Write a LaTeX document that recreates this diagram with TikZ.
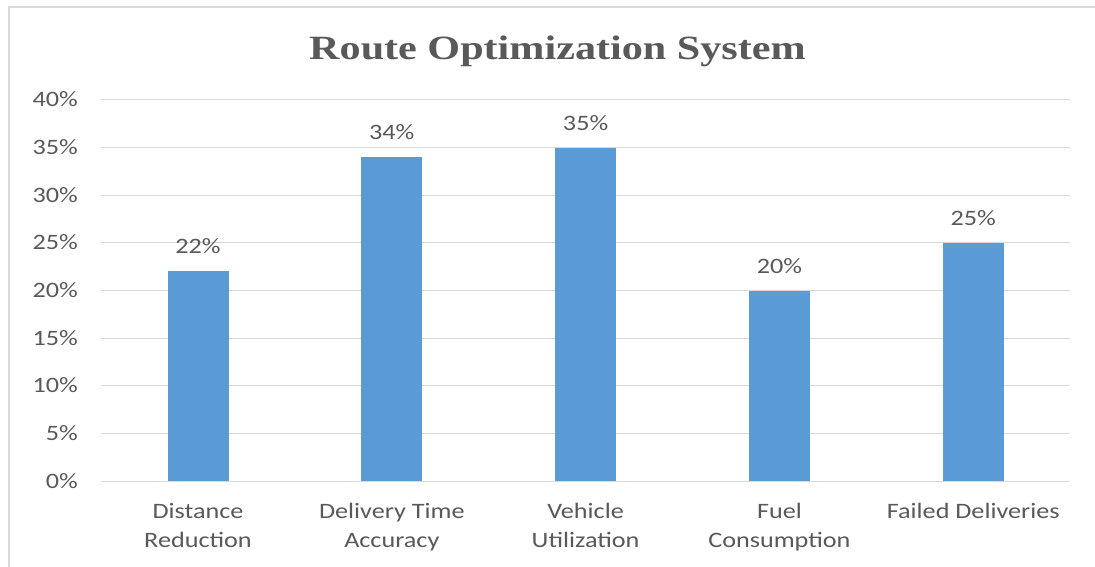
\documentclass[tikz,border=0pt]{standalone}
\usepackage{fontspec}
\setmainfont[FakeStretch=1.19]{Carlito}
\newfontfamily\titlefont[FakeStretch=1.24]{Liberation Serif}
\definecolor{txtgray}{HTML}{595959}
\definecolor{gridgray}{HTML}{D9D9D9}
\definecolor{barblue}{HTML}{5B9BD5}

\begin{document}
\begin{tikzpicture}[x=1pt,y=-1pt,
  frame/.style={draw=gridgray,line width=1.6pt},
  gridline/.style={draw=gridgray,line width=1pt},
  barfill/.style={fill=barblue},
  lbl/.style={text=txtgray,font=\fontsize{22}{26}\selectfont,inner sep=0pt},
  ticklbl/.style={lbl,anchor=base east},
  vallbl/.style={lbl,anchor=base},
  catlbl/.style={lbl,anchor=base},
  charttitle/.style={text=txtgray,font=\titlefont\bfseries\fontsize{34}{40}\selectfont,inner sep=0pt,anchor=base}]
\useasboundingbox (0,0) rectangle (1095,567);
\begin{scope}
\clip (0,0) rectangle (1095,567);
\draw[frame] (9,600) -- (9,7) -- (1120,7);
\end{scope}

% title
\node[charttitle] (title) at (557.5,59.3) {Route Optimization System};

% horizontal grid and value axis
\foreach \v in {0,5,...,40}{
  \pgfmathsetmacro{\yy}{481-\v*9.525}
  \draw[gridline] (101,\yy) -- (1070,\yy);
  \node[ticklbl] (tick\v) at (78,\yy+7) {\v\%};
}

% bars with value labels
\foreach \i/\val in {0/22,1/34,2/35,3/20,4/25}{
  \pgfmathsetmacro{\cx}{198+\i*193.8}
  \pgfmathsetmacro{\ytop}{481-\val*9.525}
  \fill[barfill] (\cx-30.5,481) rectangle (\cx+30.5,\ytop);
  \node[vallbl] (val\i) at (\cx,\ytop-17.5) {\val\%};
}

% category labels
\node[catlbl] (cat0a) at (198,518.5) {Distance};
\node[catlbl] (cat0b) at (198,547.5) {Reduction};
\node[catlbl] (cat1a) at (391.8,518.5) {Delivery Time};
\node[catlbl] (cat1b) at (391.8,547.5) {Accuracy};
\node[catlbl] (cat2a) at (585.6,518.5) {Vehicle};
\node[catlbl] (cat2b) at (585.6,547.5) {Utilization};
\node[catlbl] (cat3a) at (779.4,518.5) {Fuel};
\node[catlbl] (cat3b) at (779.4,547.5) {Consumption};
\node[catlbl] (cat4a) at (973.2,518.5) {Failed Deliveries};
\end{tikzpicture}
\end{document}
